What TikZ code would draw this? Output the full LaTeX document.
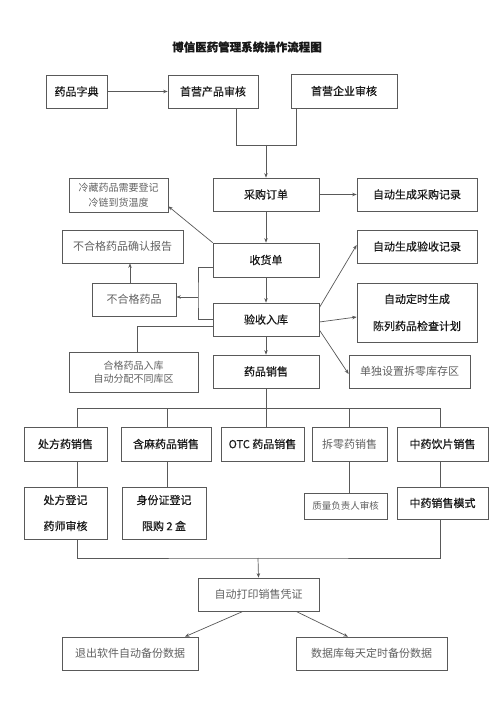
\documentclass[tikz,border=0pt]{standalone}
\usepackage{fontspec}
\usetikzlibrary{arrows.meta}
\newfontfamily\hei{Noto Sans CJK SC}[FakeBold=0.5]
\newfontfamily\song{Noto Sans CJK SC}
\definecolor{boxc}{gray}{0.35}
\definecolor{txt}{gray}{0.1}
\definecolor{gtxt}{gray}{0.38}
\tikzset{
  box/.style={draw=boxc, line width=0.7pt, inner sep=0pt, text=txt, align=center,
    font=\hei\fontsize{11}{13}\selectfont},
  sbox/.style={box, text=gtxt, font=\song\fontsize{11}{13}\selectfont},
  ln/.style={draw=boxc, line width=0.7pt},
  arr/.style={ln, -{Stealth[length=4.5pt,width=3.5pt]}},
}
\begin{document}
\begin{tikzpicture}[x=1pt,y=-1pt]
\fill[white] (0,0) rectangle (500,708);
\useasboundingbox (0,0) rectangle (500,708);
\node[font=\hei\bfseries\fontsize{11.5}{13}\selectfont, text=txt] (title) at (247,47) {博信医药管理系统操作流程图};
% top row
\node[box, minimum width=61pt, minimum height=33pt] (zd) at (76.5,91.5) {药品字典};
\node[box, minimum width=90pt, minimum height=33pt] (cp) at (213,91.5) {首营产品审核};
\node[box, minimum width=106pt, minimum height=34pt] (qy) at (344,91) {首营企业审核};
% purchase
\node[box, minimum width=106pt, minimum height=33pt] (cg) at (266,194.5) {采购订单};
\node[box, minimum width=120pt, minimum height=33pt] (cgjl) at (417,194.5) {自动生成采购记录};
\node[sbox, minimum width=99pt, minimum height=34pt, font=\song\fontsize{10}{15}\selectfont] (lc) at (118.5,195) {冷藏药品需要登记\\冷链到货温度};
% receiving
\node[sbox, minimum width=121pt, minimum height=33pt] (bhgbg) at (122.5,246.5) {不合格药品确认报告};
\node[box, minimum width=106pt, minimum height=34pt] (sh) at (266,260) {收货单};
\node[sbox, minimum width=84pt, minimum height=33pt] (bhg) at (134,299.5) {不合格药品};
\node[box, minimum width=106pt, minimum height=33pt] (ys) at (266,319.5) {验收入库};
\node[sbox, minimum width=129pt, minimum height=40pt, font=\song\fontsize{10}{12.5}\selectfont] (hg) at (133.5,372) {合格药品入库\\自动分配不同库区};
\node[box, minimum width=106pt, minimum height=33pt] (xs) at (266,371.5) {药品销售};
\node[box, minimum width=120pt, minimum height=33pt] (ysjl) at (417,246.5) {自动生成验收记录};
\node[box, minimum width=120pt, minimum height=59pt, font=\hei\fontsize{11}{27}\selectfont] (jc) at (417,312.5) {自动定时生成\\陈列药品检查计划};
\node[sbox, minimum width=121pt, minimum height=33pt] (cl) at (409.5,371.5) {单独设置拆零库存区};
% sales row 1
\node[box, minimum width=83pt, minimum height=34pt] (cf) at (65.5,444) {处方药销售};
\node[box, minimum width=90pt, minimum height=34pt] (hm) at (166,444) {含麻药品销售};
\node[box, minimum width=83pt, minimum height=34pt] (otc) at (262.5,444) {OTC 药品销售};
\node[sbox, minimum width=75pt, minimum height=34pt] (cl2) at (349.5,444) {拆零药销售};
\node[box, minimum width=91pt, minimum height=34pt] (zy) at (442.5,444) {中药饮片销售};
% sales row 2
\node[box, minimum width=83pt, minimum height=52pt, font=\hei\fontsize{11}{26}\selectfont] (cfdj) at (65.5,513) {处方登记\\药师审核};
\node[box, minimum width=84pt, minimum height=52pt, font=\hei\fontsize{11}{26}\selectfont] (sfz) at (164,513) {身份证登记\\限购 2 盒};
\node[sbox, minimum width=83pt, minimum height=26pt, font=\song\fontsize{9.5}{12}\selectfont] (zl) at (345.5,506) {质量负责人审核};
\node[box, minimum width=91pt, minimum height=32pt] (zyms) at (442.5,503) {中药销售模式};
% bottom
\node[sbox, minimum width=121pt, minimum height=33pt] (dy) at (258.5,594.5) {自动打印销售凭证};
\node[sbox, minimum width=136pt, minimum height=33pt] (tc) at (130,653.5) {退出软件自动备份数据};
\node[sbox, minimum width=151pt, minimum height=33pt] (sjk) at (371.5,653.5) {数据库每天定时备份数据};
% coordinates
\coordinate (j1) at (266,145);
\coordinate (k) at (198,297);
\coordinate (busL) at (77,408);
\coordinate (busR) at (440,408);
\coordinate (bus1) at (167,408);
\coordinate (bus3) at (349,408);
\coordinate (bb) at (258,558);
% connectors
\draw[arr] (zd.east) -- (cp.west);
\draw[ln] ([xshift=23pt]cp.south) |- (j1);
\draw[ln] ([xshift=-48pt]qy.south) |- (j1);
\draw[arr] (j1) -- (cg.north);
\draw[arr] (cg.east) -- (cgjl.west);
\draw[arr] (cg.south) -- (sh.north);
\draw[arr] (sh.north west) -- ([yshift=6pt]lc.south east);
\draw[ln] ([yshift=-7pt]sh.west) -| (k) |- (ys.west);
\draw[arr] (k) -- (bhg.east |- k);
\draw[arr] ([xshift=-4pt]bhg.north) -- ([xshift=-4pt]bhg.north |- bhgbg.south);
\draw[arr] (sh.south) -- (ys.north);
\draw[ln] ([yshift=-6.5pt]ys.west) -| ([xshift=3.5pt]hg.north);
\draw[arr] (ys.south) -- (xs.north);
\draw[arr] ([yshift=-5pt]ys.north east) -- ([yshift=1.5pt]ysjl.west);
\draw[arr] ([yshift=-2.5pt]ys.east) -- ([yshift=-4.5pt]jc.west);
\draw[arr] ([yshift=-10.5pt]ys.east) -- ([yshift=-2.5pt]cl.west);
% sales bus
\draw[ln] (xs.south) -- (xs.south |- busL);
\draw[ln] (busL) -- (busR);
\draw[ln] (busL) -- (busL |- cf.north);
\draw[ln] (bus1) -- (bus1 |- hm.north);
\draw[ln] (xs.south |- busL) -- (xs.south |- otc.north);
\draw[ln] (bus3) -- (bus3 |- cl2.north);
\draw[ln] (busR) -- (busR |- zy.north);
\draw[ln] (busL |- cf.south) -- (busL |- cfdj.north);
\draw[ln] (bus1 |- hm.south) -- (bus1 |- sfz.north);
\draw[ln] (bus3 |- cl2.south) -- (bus3 |- zl.north);
\draw[ln] (busR |- zy.south) -- (busR |- zyms.north);
\draw[ln] (busL |- cfdj.south) |- (bb) -| (busR |- zyms.south);
\draw[arr] (bb) -- (dy.north);
\draw[arr] ([xshift=-15.5pt]dy.south) -- ([xshift=55pt]tc.north);
\draw[arr] ([xshift=37.5pt]dy.south) -- ([xshift=-23.5pt]sjk.north);
\end{tikzpicture}
\end{document}
